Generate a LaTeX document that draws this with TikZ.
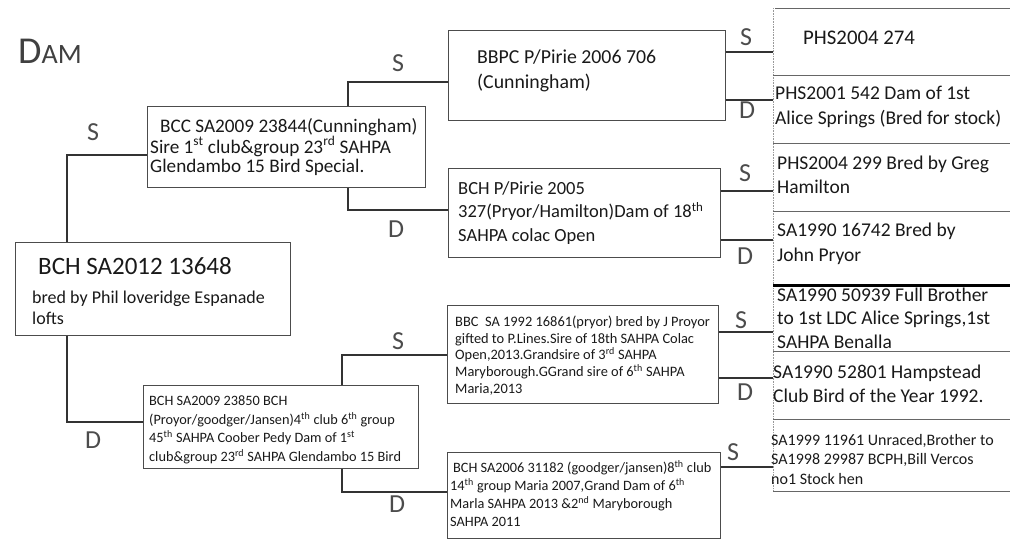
\documentclass[tikz,border=0pt]{standalone}
\usepackage{fontspec}
\setmainfont{Carlito}
\begin{document}
\begin{tikzpicture}[x=1pt,y=-1pt,
  box/.style={draw=black!70, line width=0.9pt, anchor=north west, inner sep=0pt},
  txt/.style={anchor=west, align=left, inner sep=0pt, text=black!90},
  cell/.style={anchor=north west, inner sep=0pt, minimum width=240pt},
  sepline/.style={draw=black!60, line width=0.9pt},
  conn/.style={draw=black!80, line width=1.2pt},
  sd/.style={font=\fontsize{26}{26}\selectfont, text=black!70, inner sep=0pt},
  fbig/.style={font=\fontsize{19.5}{24.5}\selectfont},
  fsmall/.style={font=\fontsize{14.5}{17.5}\selectfont}
]
\useasboundingbox (0,0) rectangle (1010,541);

% title
\node[anchor=base west, inner sep=0pt, text=black!75] (title) at (18,63)
  {{\fontsize{38}{38}\selectfont D}{\fontsize{28}{28}\selectfont AM}};

% boxes
\node[box, minimum width=275pt, minimum height=93pt] (root) at (15,242) {};
\node[box, minimum width=278pt, minimum height=81pt] (bcc) at (147,106) {};
\node[box, minimum width=277pt, minimum height=90pt] (bbpc) at (448,30) {};
\node[box, minimum width=272pt, minimum height=89pt] (pirie) at (448,168) {};
\node[box, minimum width=271pt, minimum height=98pt] (bbc) at (447,305) {};
\node[box, minimum width=275pt, minimum height=83pt] (b2009) at (143,385) {};
\node[box, minimum width=273pt, minimum height=86pt] (b2006) at (447,452) {};

% box texts
\node[txt, font=\fontsize{18}{21}\selectfont] (roott) at ([xshift=17pt,yshift=-2pt]root.west)
  {\hspace*{6pt}{\fontsize{25}{25}\selectfont BCH SA2012 13648}\\[8pt]bred by Phil loveridge Espanade\\lofts};
\node[txt, font=\fontsize{19.2}{19.5}\selectfont] (bcct) at ([xshift=3pt]bcc.west)
  {\hspace*{10pt}BCC SA2009 23844(Cunningham)\\Sire 1\textsuperscript{st} club\&group 23\textsuperscript{rd} SAHPA\\Glendambo 15 Bird Special.};
\node[txt, font=\fontsize{19.8}{25}\selectfont] (bbpct) at ([xshift=29pt,yshift=5pt]bbpc.west)
  {BBPC P/Pirie 2006 706\\(Cunningham)};
\node[txt, font=\fontsize{18.5}{23.5}\selectfont] (piriet) at ([xshift=10pt]pirie.west)
  {BCH P/Pirie 2005\\327(Pryor/Hamilton)Dam of 18\textsuperscript{th}\\SAHPA colac Open};
\node[txt, font=\fontsize{14.4}{16.8}\selectfont] (bbct) at ([xshift=8pt,yshift=-1pt]bbc.west)
  {BBC\ \ SA 1992 16861(pryor) bred by J Proyor\\gifted to P.Lines.Sire of 18th SAHPA Colac\\Open,2013.Grandsire of 3\textsuperscript{rd} SAHPA\\Maryborough.GGrand sire of 6\textsuperscript{th} SAHPA\\Maria,2013};
\node[txt, font=\fontsize{14.3}{18.5}\selectfont] (b2009t) at ([xshift=6pt,yshift=-3pt]b2009.west)
  {BCH SA2009 23850 BCH\\(Proyor/goodger/Jansen)4\textsuperscript{th} club 6\textsuperscript{th} group\\45\textsuperscript{th} SAHPA Coober Pedy Dam of 1\textsuperscript{st}\\club\&group 23\textsuperscript{rd} SAHPA Glendambo 15 Bird};
\node[txt, font=\fontsize{14.3}{18}\selectfont] (b2006t) at ([xshift=3pt,yshift=2pt]b2006.west)
  {\hspace*{3pt}BCH SA2006 31182 (goodger/jansen)8\textsuperscript{th} club\\14\textsuperscript{th} group Maria 2007,Grand Dam of 6\textsuperscript{th}\\Marla SAHPA 2013 \&2\textsuperscript{nd} Maryborough\\SAHPA 2011};

% right column cells
\node[cell, minimum height=67pt] (c1) at (773,8) {};
\node[cell, minimum height=68pt] (c2) at (773,75) {};
\node[cell, minimum height=68pt] (c3) at (773,143) {};
\node[cell, minimum height=74pt] (c4) at (773,211) {};
\node[cell, minimum height=66pt] (c5) at (773,285) {};
\node[cell, minimum height=68pt] (c6) at (773,351) {};
\node[cell, minimum height=72pt] (c7) at (773,419) {};

\draw[draw=black!40, line width=0.6pt, densely dotted] (c1.north west) -- (c7.south west);
\draw[sepline] ([xshift=2pt]c1.north west) -- (c1.north east);
\draw[sepline] (c2.north west) -- (c2.north east);
\draw[sepline] (c3.north west) -- (c3.north east);
\draw[sepline] (c4.north west) -- (c4.north east);
\draw[draw=black, line width=3pt] (c5.north west) -- (c5.north east);
\draw[sepline] (c6.north west) -- (c6.north east);
\draw[sepline] (c7.north west) -- (c7.north east);
\draw[sepline] (c7.south west) -- (c7.south east);

\node[txt, font=\fontsize{20.8}{25}\selectfont] (c1t) at (803,38) {PHS2004 274};
\node[txt, fbig] (c2t) at (775,107) {PHS2001 542 Dam of 1st\\Alice Springs (Bred for stock)};
\node[txt, fbig] (c3t) at (777,175) {PHS2004 299 Bred by Greg\\Hamilton};
\node[txt, fbig] (c4t) at (777,244) {SA1990 16742 Bred by\\John Pryor};
\node[txt, font=\fontsize{19.5}{23.5}\selectfont] (c5t) at (777,318) {SA1990 50939 Full Brother\\to 1st LDC Alice Springs,1st\\SAHPA Benalla};
\node[txt, fbig] (c6t) at (773,384) {SA1990 52801 Hampstead\\Club Bird of the Year 1992.};
\node[txt, font=\fontsize{16}{19.5}\selectfont] (c7t) at (771,459) {SA1999 11961 Unraced,Brother to\\SA1998 29987 BCPH,Bill Vercos\\no1 Stock hen};

% connectors
\draw[conn] (root.north -| 67,0) |- (bcc.west |- 0,155);
\draw[conn] (root.south -| 67,0) |- (b2009.west |- 0,422);
\draw[conn] (bcc.north -| 348,0) |- (bbpc.west |- 0,82);
\draw[conn] (bcc.south -| 348,0) |- (pirie.west |- 0,210);
\draw[conn] (b2009.north -| 342,0) |- (bbc.west |- 0,355);
\draw[conn] (b2009.south -| 342,0) |- (b2006.west |- 0,492);
\draw[conn] (bbpc.east |- 0,52) -- (c1.west |- 0,52);
\draw[conn] (bbpc.east |- 0,100) -- (c2.west |- 0,100);
\draw[conn] (pirie.east |- 0,191) -- (c3.west |- 0,191);
\draw[conn] (pirie.east |- 0,240) -- (c4.west |- 0,240);
\draw[conn] (bbc.east |- 0,332) -- (c5.west |- 0,332);
\draw[conn] (bbc.east |- 0,378) -- (c6.west |- 0,378);
\draw[conn] (b2006.east |- 0,467) -- (c7.west |- 0,467);

% S / D labels
\node[sd] (s1) at (93,132) {S};
\node[sd] (d1) at (93,440) {D};
\node[sd] (s2) at (398,63) {S};
\node[sd] (d2) at (396,229) {D};
\node[sd] (s3) at (398,341) {S};
\node[sd] (d3) at (397,504) {D};
\node[sd] (s4) at (746,37) {S};
\node[sd] (d4) at (747,110) {D};
\node[sd] (s5) at (745,173) {S};
\node[sd] (d5) at (745,256) {D};
\node[sd] (s6) at (741,320) {S};
\node[sd] (d6) at (745,392) {D};
\node[sd] (s7) at (733,452) {S};
\end{tikzpicture}
\end{document}
